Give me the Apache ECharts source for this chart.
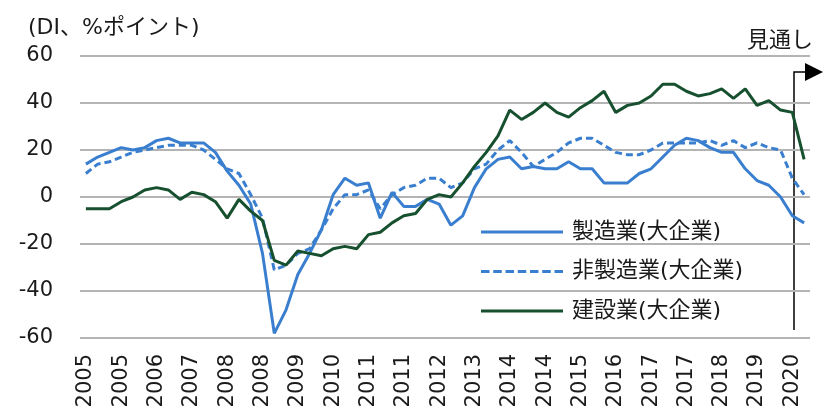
<!DOCTYPE html>
<html>
<head>
<meta charset="utf-8">
<script src="https://cdn.jsdelivr.net/npm/echarts@6/dist/echarts.min.js"></script>
<style>
html,body{margin:0;padding:0;background:#fff;}
#main{width:834px;height:417px;}
</style>
</head>
<body>
<div id="main"></div>
<script>
// Quarterly categories (2005 Mar – 2020 Mar, then the 2020 Jun outlook)
const quarters = [];
for (let y = 2005; y <= 2020; y++) {
  for (const m of ['03', '06', '09', '12']) {
    quarters.push(y + '/' + m);
  }
}
const categories = quarters.slice(0, 62);

const seriesNames = ['製造業(大企業)', '非製造業(大企業)', '建設業(大企業)'];

const manufacturing = [
  14, 17, 19, 21,
  20, 21, 24, 25,
  23, 23, 23, 19,
  11, 5, -3, -24,
  -58, -48, -33, -24,
  -14, 1, 8, 5,
  6, -9, 2, -4,
  -4, -1, -3, -12,
  -8, 4, 12, 16,
  17, 12, 13, 12,
  12, 15, 12, 12,
  6, 6, 6, 10,
  12, 17, 22, 25,
  24, 21, 19, 19,
  12, 7, 5, 0,
  -8, -11
];

const nonManufacturing = [
  10, 14, 15, 17,
  19, 20, 21, 22,
  22, 22, 20, 16,
  12, 10, 1, -9,
  -31, -29, -24, -22,
  -14, -5, 1, 1,
  3, -5, 1, 4,
  5, 8, 8, 4,
  6, 12, 14, 20,
  24, 19, 13, 16,
  19, 23, 25, 25,
  22, 19, 18, 18,
  20, 23, 23, 23,
  23, 24, 22, 24,
  21, 23, 21, 20,
  8, 1
];

const construction = [
  -5, -5, -5, -2,
  0, 3, 4, 3,
  -1, 2, 1, -2,
  -9, -1, -6, -10,
  -27, -29, -23, -24,
  -25, -22, -21, -22,
  -16, -15, -11, -8,
  -7, -1, 1, 0,
  6, 13, 19, 26,
  37, 33, 36, 40,
  36, 34, 38, 41,
  45, 36, 39, 40,
  43, 48, 48, 45,
  43, 44, 46, 42,
  46, 39, 41, 37,
  36, 16
];

const yTicks = { min: -60, max: 60, interval: 20 };
const unitLabel = '(DI、%ポイント)';
const outlookLabel = '見通し';

const FONT = '"DejaVu Sans", "Noto Sans CJK JP", sans-serif';
const BLUE = '#3a7fcf';
const GREEN = '#16502e';
const TEXT = '#1a1a1a';

// legend swatches (solid and dashed line shapes)
const solidIcon = 'path://M0,0H82V3H0Z';
let dashPath = 'path://';
for (let k = 0; k < 7; k++) {
  const s = k * 12.25;
  dashPath += 'M' + s + ',0H' + (s + 8.5) + 'V3H' + s + 'Z';
}
const dashedIcon = dashPath;

const chart = echarts.init(document.getElementById('main'), null, { renderer: 'canvas' });

const option = {
  animation: false,
  backgroundColor: '#ffffff',
  textStyle: { fontFamily: FONT },
  grid: { left: 80, right: 24, top: 56, bottom: 79, containLabel: false },
  title: {
    text: unitLabel,
    left: 23,
    top: 12,
    textStyle: { fontFamily: FONT, fontSize: 22, fontWeight: 'normal', color: TEXT }
  },
  legend: {
    orient: 'vertical',
    left: 481,
    top: 221,
    padding: 0,
    itemWidth: 82,
    itemHeight: 3,
    itemGap: 17.5,
    textStyle: { fontFamily: FONT, fontSize: 22, color: TEXT, padding: [0, 0, 0, 4] },
    data: [
      { name: seriesNames[0], icon: solidIcon },
      { name: seriesNames[1], icon: dashedIcon },
      { name: seriesNames[2], icon: solidIcon }
    ]
  },
  xAxis: {
    type: 'category',
    data: categories,
    boundaryGap: true,
    axisLine: { show: false },
    axisTick: { show: false },
    splitLine: { show: false },
    axisLabel: {
      interval: 2,
      rotate: 90,
      margin: 16,
      fontFamily: FONT,
      fontSize: 21,
      color: TEXT,
      formatter: function (v) { return v.slice(0, 4); }
    }
  },
  yAxis: {
    type: 'value',
    min: yTicks.min,
    max: yTicks.max,
    interval: yTicks.interval,
    axisLine: { show: false },
    axisTick: { show: false },
    splitLine: { lineStyle: { color: '#b4b4b4', width: 2 } },
    axisLabel: { margin: 27, fontFamily: FONT, fontSize: 21, color: TEXT }
  },
  series: [
    {
      name: seriesNames[0], type: 'line', data: manufacturing, symbol: 'none',
      lineStyle: { color: BLUE, width: 3 }, itemStyle: { color: BLUE }
    },
    {
      name: seriesNames[1], type: 'line', data: nonManufacturing, symbol: 'none',
      lineStyle: { color: BLUE, width: 3, type: [7, 4] }, itemStyle: { color: BLUE }
    },
    {
      name: seriesNames[2], type: 'line', data: construction, symbol: 'none',
      lineStyle: { color: GREEN, width: 3 }, itemStyle: { color: GREEN }
    }
  ],
  graphic: [
    {
      type: 'text', left: 747, top: 30,
      style: { text: outlookLabel, font: '22px ' + FONT, fill: TEXT }
    },
    {
      type: 'polyline', silent: true,
      shape: { points: [[794, 330], [794, 72], [806, 72]] },
      style: { stroke: '#000', lineWidth: 1.5, fill: null }
    },
    {
      type: 'polygon', silent: true,
      shape: { points: [[805, 63], [823, 72], [805, 81]] },
      style: { fill: '#000' }
    }
  ]
};

chart.setOption(option);
</script>
</body>
</html>
